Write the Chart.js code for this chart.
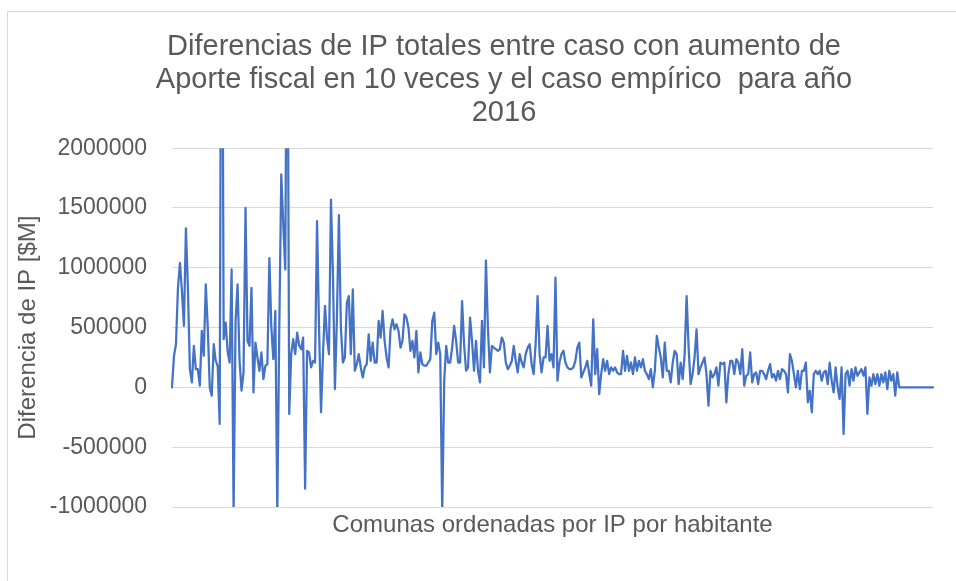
<!DOCTYPE html>
<html>
<head>
<meta charset="utf-8">
<script src="https://cdn.jsdelivr.net/npm/chart.js@4.4.1/dist/chart.umd.min.js"></script>
<style>
html,body{margin:0;padding:0;background:#fff;}
#wrap{position:relative;width:956px;height:581px;overflow:hidden;background:#fff;}
#frame{position:absolute;left:7px;top:11px;width:1000px;height:1000px;border:1px solid #d9d9d9;box-sizing:border-box;}
canvas{position:absolute;left:0;top:0;}
</style>
</head>
<body>
<div id="wrap"><div id="frame"></div><canvas id="c" width="956" height="581"></canvas></div>
<script>
const titleLines = [
  "Diferencias de IP totales entre caso con aumento de",
  "Aporte fiscal en 10 veces y el caso empírico  para año",
  "2016"
];
const xAxisTitle = "Comunas ordenadas por IP por habitante";
const yAxisTitle = "Diferencia de IP [$M]";
const yTickValues = [-1000000, -500000, 0, 500000, 1000000, 1500000, 2000000];

const valuesPart1 = [0,264000,361000,833000,1040000,805000,514000,1330000,833000,153000,
  42000,347000,153000,153000,14000,472000,264000,861000,500000,0,
  -69000,361000,222000,180000,-305000,5000000,403000,542000,300000,208000,986000,
  -1050000,556000,861000,222000,-28000,125000,1500000,389000,347000,833000,
  -42000,375000,250000,139000];
const valuesPart2 = [292000,69000,180000,194000,1080000,500000,236000,639000,-1050000,500000,
  1780000,1360000,986000,4000000,-222000,278000,403000,278000,458000,350000,319000,
  417000,-847000,306000,292000,167000,222000,208000,1390000,500000,-208000,
  278000,681000,417000,278000,1570000,944000,-14000,583000,1440000,500000,
  208000,250000,708000,764000,278000];
const valuesPart3 = [819000,139000,194000,278000,167000,83000,167000,194000,444000,222000,
  375000,208000,208000,556000,417000,639000,389000,250000,167000,486000,
  569000,486000,528000,472000,333000,389000,611000,583000,500000,306000,
  389000,250000,472000,125000,292000,194000,181000,181000,208000,236000,
  556000,625000,278000,375000,278000,-1050000,56000,347000,208000];
const valuesPart4 = [208000,333000,514000,389000,208000,208000,722000,361000,139000,167000,
  583000,389000,139000,389000,139000,42000,556000,167000,1060000,500000,
  125000,347000,333000,319000,306000,319000,417000,375000,208000,153000,
  181000,222000,347000,222000,125000,278000,208000,167000,278000,333000,
  361000,194000,111000,361000,764000,278000,125000,250000];
const valuesPart5 = [250000,514000,222000,278000,167000,917000,56000,208000,278000,306000,
  208000,167000,153000,153000,167000,222000,333000,375000,83000,125000,
  167000,222000,111000,14000,569000,111000,319000,-56000,111000,236000,
  139000,222000,111000,167000,139000,167000,125000,111000,111000,306000,
  139000,264000,139000,208000,111000,250000,139000,222000];
const valuesPart6 = [167000,236000,139000,111000,69000,153000,0,139000,431000,333000,
  250000,83000,375000,139000,139000,42000,208000,306000,278000,28000,
  208000,69000,278000,764000,333000,28000,111000,250000,486000,111000,
  167000,208000,250000,111000,-153000,139000,83000,111000,167000,14000,
  208000,194000,208000,-125000,111000,222000,222000,111000];
const valuesPart7 = [236000,208000,111000,319000,14000,97000,111000,292000,42000,111000,
  125000,28000,139000,139000,111000,69000,139000,194000,83000,111000,
  56000,139000,69000,153000,139000,111000,-42000,278000,222000,111000,
  0,139000,-14000,139000,139000,208000,-125000,-28000,-208000,
  111000,139000,111000,139000,56000,125000,139000,28000];
const valuesPart8 = [208000,56000,-42000,167000,0,-97000,167000,-389000,111000,139000,
  14000,153000,56000,167000,97000,125000,153000,97000,167000,-222000,
  83000,14000,111000,28000,111000,14000,111000,42000,125000,-14000,
  139000,56000,111000,-69000,125000,
  0,0,0,0,0,0,0,0,0,0,0,0,0,0,0,0,0,0];

const ipDifferences = [].concat(valuesPart1, valuesPart2, valuesPart3, valuesPart4,
  valuesPart5, valuesPart6, valuesPart7, valuesPart8);
const comunas = ipDifferences.map((_, i) => String(i + 1));

const FONT = "'Liberation Sans', Arial, Helvetica, sans-serif";
const GRAY = '#595959';

const shiftTitle = {
  id: 'shiftTitle',
  afterLayout(chart) {
    const t = chart.titleBlock;
    if (t) { t.left += 37.5; t.right += 37.5; }
  }
};

new Chart(document.getElementById('c'), {
  type: 'line',
  data: {
    labels: comunas,
    datasets: [{
      data: ipDifferences,
      borderColor: '#4472C4',
      backgroundColor: '#4472C4',
      borderWidth: 2.25,
      pointRadius: 0,
      tension: 0,
      fill: false,
      borderJoinStyle: 'round',
      borderCapStyle: 'round'
    }]
  },
  options: {
    responsive: false,
    animation: false,
    devicePixelRatio: 1,
    layout: { padding: { left: 0, right: 23, top: 0, bottom: 0 } },
    plugins: {
      legend: { display: false },
      tooltip: { enabled: false },
      title: {
        display: true,
        text: titleLines,
        color: GRAY,
        font: { family: FONT, size: 29, weight: 'normal', lineHeight: 1.14 },
        padding: { top: 30.5, bottom: 18.5 }
      }
    },
    scales: {
      x: {
        type: 'category',
        offset: false,
        grid: { display: false, drawTicks: false },
        border: { display: false },
        ticks: { display: false },
        title: {
          display: true, text: xAxisTitle, color: GRAY,
          font: { family: FONT, size: 24, lineHeight: 1.2 },
          padding: { top: 0, bottom: 41.6 }
        },
        afterFit(s) { s.height = 74; }
      },
      y: {
        min: -1000000,
        max: 2000000,
        afterBuildTicks(s) { s.ticks = yTickValues.map(v => ({ value: v })); },
        ticks: {
          padding: 25, color: GRAY,
          font: { family: FONT, size: 23 },
          callback: v => String(v)
        },
        grid: { color: '#d9d9d9', lineWidth: 1, drawTicks: false },
        border: { display: false },
        title: {
          display: true, text: yAxisTitle, color: GRAY,
          font: { family: FONT, size: 24, lineHeight: 1.2 },
          padding: { top: 13.6, bottom: 0 }
        },
        afterFit(s) { s.width = 172; }
      }
    }
  },
  plugins: [shiftTitle]
});
</script>
</body>
</html>
